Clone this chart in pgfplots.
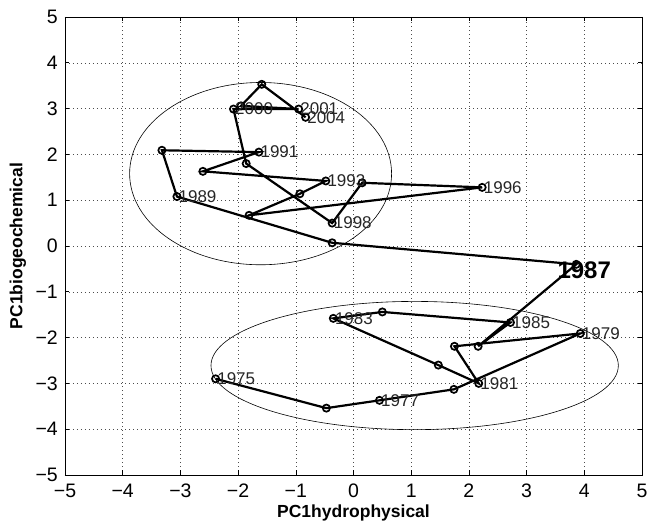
\documentclass[border=0pt]{standalone}
\usepackage{pgfplots}
\pgfplotsset{compat=1.18}
\usepackage{fontspec}
\setmainfont{Liberation Sans}
\pgfplotstableread{
x y
-2.39 -2.90
-0.47 -3.54
0.45 -3.37
1.74 -3.13
3.93 -1.91
1.75 -2.19
2.17 -3.00
1.47 -2.60
-0.35 -1.58
0.50 -1.44
2.72 -1.67
2.16 -2.19
3.86 -0.40
-0.37 0.07
-3.06 1.08
-3.32 2.09
-1.64 2.05
-2.61 1.63
-0.48 1.42
-0.93 1.14
-1.81 0.67
2.23 1.28
0.15 1.38
-0.37 0.50
-1.86 1.80
-2.08 2.99
-0.95 2.99
-1.95 3.06
-1.59 3.53
-0.83 2.81
}\traj
\pgfplotstableread{
x y label
-2.39 -2.90 1975
0.45 -3.37 1977
3.93 -1.91 1979
2.17 -3.00 1981
-0.35 -1.58 1983
2.72 -1.67 1985
-3.06 1.08 1989
-1.64 2.05 1991
-0.48 1.42 1993
2.23 1.28 1996
-0.37 0.50 1998
-2.08 2.99 2000
-0.95 2.99 2001
-0.83 2.81 2004
}\labs
\begin{document}
\begin{tikzpicture}
\begin{axis}[
  width=577pt, height=458pt, scale only axis,
  xmin=-5, xmax=5, ymin=-5, ymax=5,
  xtick={-5,-4,-3,-2,-1,0,1,2,3,4,5},
  ytick={-5,-4,-3,-2,-1,0,1,2,3,4,5},
  xticklabels={−5,−4,−3,−2,−1,0,1,2,3,4,5},
  yticklabels={−5,−4,−3,−2,−1,0,1,2,3,4,5},
  grid=major,
  major grid style={black!70, line width=0.5pt, dash pattern=on 0.8pt off 3.2pt},
  tick align=inside, major tick length=4.5pt,
  tick style={black, line width=0.6pt},
  axis line style={black, line width=0.8pt},
  ticklabel style={font=\fontsize{19.5}{19.5}\selectfont, inner sep=0pt},
  xticklabel style={anchor=base, yshift=-23pt},
  yticklabel style={anchor=east, xshift=-7pt},
  xlabel={PC1hydrophysical},
  ylabel={PC1biogeochemical},
  label style={font=\fontsize{17.5}{18}\selectfont\bfseries},
  xlabel style={at={(axis description cs:0.5,-0.082)}, anchor=center},
  ylabel style={at={(axis description cs:-0.0815,0.5)}, anchor=center, rotate=0},
  clip=false,
]
\path (axis description cs:0,0.5) ++(-65pt,0pt);
\path (axis description cs:1,0.5) ++(10pt,0pt);
\path (axis description cs:0.5,1) ++(0pt,17pt);
\path (axis description cs:0.5,0) ++(0pt,-50pt);
\draw[black, line width=0.6pt] (axis cs:-1.61,1.58) ellipse [x radius=2.27, y radius=1.99];
\draw[black, line width=0.6pt] (axis cs:1.06,-2.61) ellipse [x radius=3.53, y radius=1.40];
\addplot[black, line width=2.2pt, mark=o, mark size=3.6pt, mark options={line width=1.7pt}] table {\traj};
\addplot[draw=none, mark=none, nodes near coords, point meta=explicit symbolic,
  nodes near coords style={anchor=west, inner sep=0pt, xshift=1.5pt, font=\fontsize{17}{17}\selectfont, text=black!85}]
  table[meta=label] {\labs};
\addplot[draw=none, mark=none, nodes near coords, point meta=explicit symbolic,
  nodes near coords style={anchor=center, inner sep=0pt, xshift=8pt, yshift=-5.5pt, font=\fontsize{24}{24}\selectfont\bfseries}]
  table[meta=label] {
x y label
3.86 -0.40 1987
};
\end{axis}
\end{tikzpicture}
\end{document}
